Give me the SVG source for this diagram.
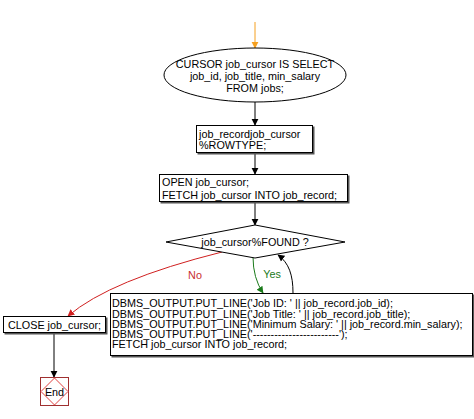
<svg xmlns="http://www.w3.org/2000/svg" width="474" height="419" viewBox="0 0 474 419">
<defs>
<style>
text{font-family:"Liberation Sans",Arial,sans-serif;font-size:10.8px;fill:#000}
.box{fill:#fff;stroke:#000;stroke-width:1}
.sh{fill:#555;stroke:none}
.ln{fill:none;stroke:#000;stroke-width:1}
.c{text-anchor:middle}
</style>
<marker id="ab" viewBox="0 0 10 10" refX="9" refY="5" markerWidth="7" markerHeight="9" orient="auto" markerUnits="userSpaceOnUse"><path d="M0,0 L10,5 L0,10 z" fill="#000"/></marker>
<marker id="ao" viewBox="0 0 10 10" refX="9" refY="5" markerWidth="7" markerHeight="9" orient="auto" markerUnits="userSpaceOnUse"><path d="M0,0 L10,5 L0,10 z" fill="#f5a020"/></marker>
<marker id="ar" viewBox="0 0 10 10" refX="9" refY="5" markerWidth="7" markerHeight="9" orient="auto" markerUnits="userSpaceOnUse"><path d="M0,0 L10,5 L0,10 z" fill="#d02020"/></marker>
<marker id="ag" viewBox="0 0 10 10" refX="9" refY="5" markerWidth="7" markerHeight="9" orient="auto" markerUnits="userSpaceOnUse"><path d="M0,0 L10,5 L0,10 z" fill="#1a7a1a"/></marker>
</defs>
<rect width="474" height="419" fill="#fff"/>
<g id="connectors">
<path class="ln" d="M255,22 L255,48" stroke="#f5a020" style="stroke:#f5a020" marker-end="url(#ao)"/>
<path class="ln" d="M255,102 L255,125" marker-end="url(#ab)"/>
<path class="ln" d="M255,153 L255,174" marker-end="url(#ab)"/>
<path class="ln" d="M255,202 L255,225" marker-end="url(#ab)"/>
<path class="ln" d="M222,252 Q110,280 68,316" style="stroke:#d02020" marker-end="url(#ar)"/>
<path class="ln" d="M253,257 Q253,278 263,293" style="stroke:#1a7a1a" marker-end="url(#ag)"/>
<path class="ln" d="M293,293 C293,275 289,263 278,255" marker-end="url(#ab)"/>
<path class="ln" d="M54,333 L54,377" marker-end="url(#ab)"/>
<text x="195" y="279" class="c" style="fill:#c83030">No</text>
<text x="272" y="278" class="c" style="fill:#1a7a1a">Yes</text>
</g>
<g id="n-cursor">
<ellipse class="box" cx="255" cy="75" rx="91" ry="27"/>
<text x="255" y="67.5" class="c">CURSOR job_cursor IS SELECT</text>
<text x="255" y="79.5" class="c">job_id, job_title, min_salary</text>
<text x="255" y="91.5" class="c">FROM jobs;</text>
</g>
<g id="n-record">
<rect class="sh" x="197.5" y="126.5" width="117" height="28"/>
<rect class="box" x="196.5" y="125.5" width="116" height="27"/>
<text x="199" y="138">job_recordjob_cursor</text>
<text x="199" y="149">%ROWTYPE;</text>
</g>
<g id="n-open">
<rect class="sh" x="160.5" y="175.5" width="189" height="28"/>
<rect class="box" x="159.5" y="174.5" width="188" height="27"/>
<text x="162" y="186">OPEN job_cursor;</text>
<text x="162" y="198.5">FETCH job_cursor INTO job_record;</text>
</g>
<g id="n-found">
<polygon class="box" points="166,242 255,225 345,242 255,258"/>
<text x="255" y="246" class="c">job_cursor%FOUND ?</text>
</g>
<g id="n-output">
<rect class="sh" x="111.5" y="294.5" width="363" height="63"/>
<rect class="box" x="110.5" y="293.5" width="362" height="62"/>
<text x="112" y="307">DBMS_OUTPUT.PUT_LINE('Job ID: ' || job_record.job_id);</text>
<text x="112" y="317.5">DBMS_OUTPUT.PUT_LINE('Job Title: ' || job_record.job_title);</text>
<text x="112" y="327.8">DBMS_OUTPUT.PUT_LINE('Minimum Salary: ' || job_record.min_salary);</text>
<text x="112" y="338">DBMS_OUTPUT.PUT_LINE('------------------------');</text>
<text x="112" y="348.3">FETCH job_cursor INTO job_record;</text>
</g>
<g id="n-close">
<rect class="sh" x="4.5" y="317.5" width="103" height="17"/>
<rect class="box" x="3.5" y="316.5" width="102" height="16"/>
<text x="8" y="328.5">CLOSE job_cursor;</text>
</g>
<g id="n-end">
<rect x="40.5" y="377.5" width="28" height="28" fill="#fff" stroke="#a03030"/>
<polygon points="54.5,378 68,391.5 54.5,405 41,391.5" fill="none" stroke="#e04040"/>
<text x="54.5" y="395.5" class="c">End</text>
</g>
</svg>
